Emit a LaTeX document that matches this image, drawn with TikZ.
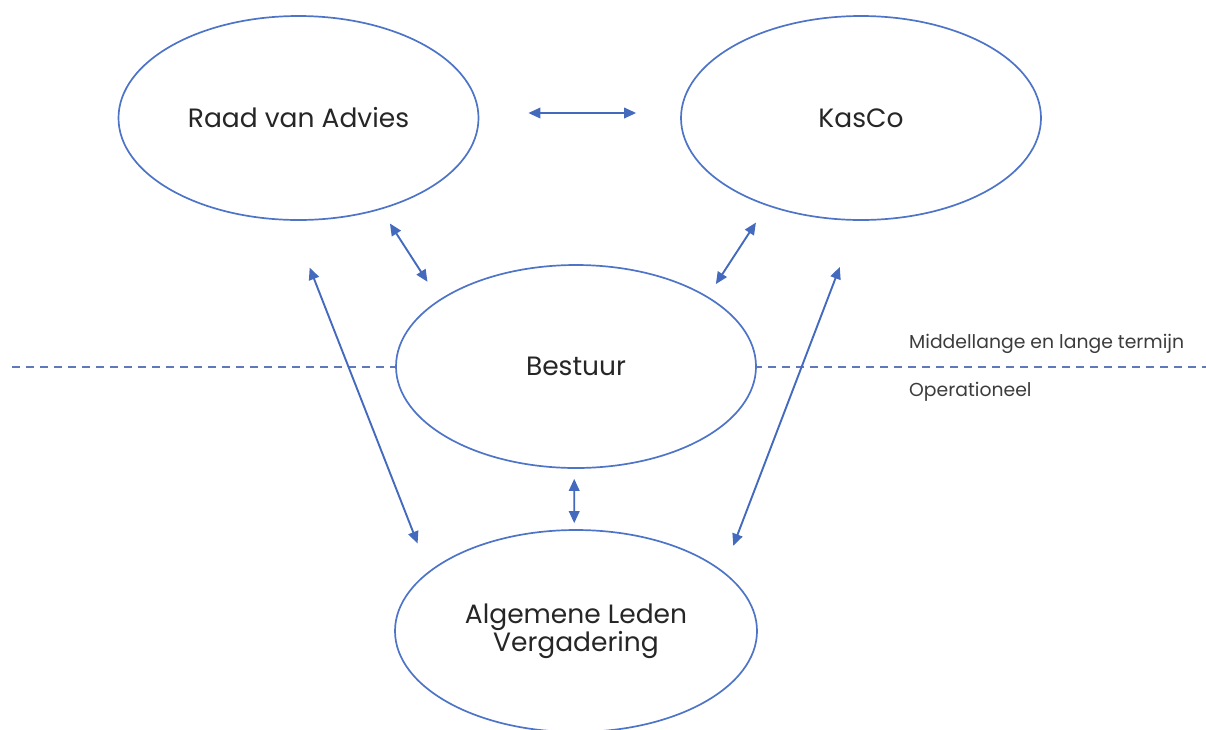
\documentclass[tikz,border=0pt]{standalone}
\usepackage{fontspec}
\setmainfont{Poppins}
\usetikzlibrary{shapes.geometric,arrows.meta}
\definecolor{ellblue}{RGB}{78,116,200}
\definecolor{arrblue}{RGB}{68,106,190}
\definecolor{dashblue}{RGB}{95,120,185}
\definecolor{maintext}{RGB}{38,38,38}
\definecolor{sidetext}{RGB}{60,60,60}
\tikzset{
  orgnode/.style={ellipse, draw=ellblue, line width=1.7pt, fill=white, inner sep=0pt,
    minimum width=360pt, minimum height=204pt, text=maintext,
    font=\fontsize{26.5}{27}\selectfont, align=center},
  biarrow/.style={arrblue, line width=1.9pt, {Triangle[length=12pt,width=10.5pt]}-{Triangle[length=12pt,width=10.5pt]}},
  sidelabel/.style={anchor=base west, inner sep=0pt, text=sidetext, font=\fontsize{18.8}{20}\selectfont},
  splitline/.style={dashblue, line width=1.3pt, dash pattern=on 8pt off 6pt}
}
\begin{document}
\begin{tikzpicture}[x=1pt,y=-1pt]
\useasboundingbox (0,0) rectangle (1206,729);
\coordinate (dashL) at (12,367);
\coordinate (dashR) at (1206,367);
\draw[splitline] (dashL) -- (dashR);
\node[orgnode] (rva) at (298.5,118) {Raad van Advies};
\node[orgnode] (kasco) at (861,118) {KasCo};
\node[orgnode, minimum height=203pt] (bestuur) at (576,366.5) {Bestuur};
\node[orgnode, minimum width=362pt, minimum height=202pt] (alv) at (576,631) {Algemene Leden\\Vergadering};
\node[sidelabel] (lang) at (909,348) {Middellange en lange termijn};
\node[sidelabel] (oper) at (909,396) {Operationeel};
\draw[biarrow, shorten <=49pt, shorten >=44pt] ([yshift=5pt]rva.east) -- ([yshift=5pt]kasco.west);
\draw[biarrow, shorten <=16.6pt, shorten >=21.3pt] (rva.-48.9) -- (bestuur.154.4);
\draw[biarrow, shorten <=20pt, shorten >=14.7pt] (kasco.223.8) -- (bestuur.28.6);
\draw[biarrow, shorten <=50.3pt, shorten >=30pt] (rva.266.3) -- (alv.158.6);
\draw[biarrow, shorten <=49.4pt, shorten >=27.4pt] (kasco.268.3) -- (alv.22.7);
\draw[biarrow, shorten <=10pt, shorten >=6pt] (bestuur.-91.7) -- (alv.91.7);
\end{tikzpicture}
\end{document}
